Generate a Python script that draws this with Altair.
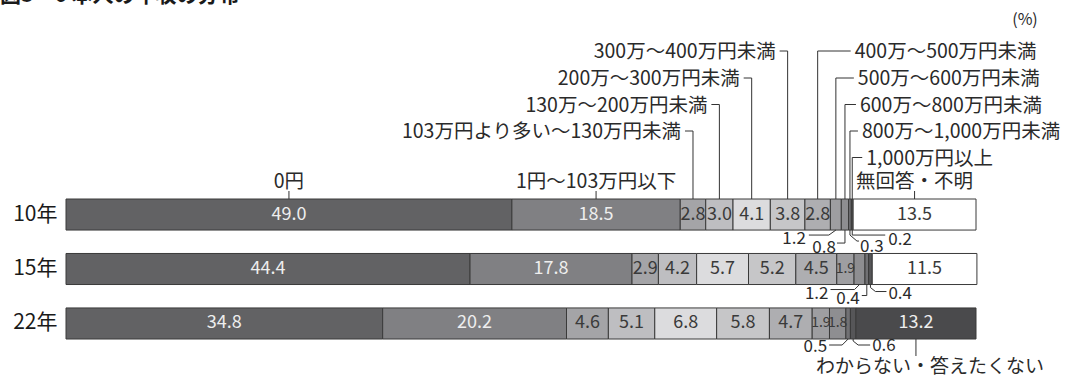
import altair as alt
import pandas as pd

FONT = "Noto Sans CJK JP"

# ---- data -------------------------------------------------------------
years = ["10年", "15年", "22年"]
brackets = [
    "0円",
    "1円〜103万円以下",
    "103万円より多い〜130万円未満",
    "130万〜200万円未満",
    "200万〜300万円未満",
    "300万〜400万円未満",
    "400万〜500万円未満",
    "500万〜600万円未満",
    "600万〜800万円未満",
    "800万〜1,000万円未満",
    "1,000万円以上",
]
last_cat = ["無回答・不明", "無回答・不明", "わからない・答えたくない"]
share_10 = [49.0, 18.5, 2.8, 3.0, 4.1, 3.8, 2.8, 1.2, 0.8, 0.3, 0.2, 13.5]
share_15 = [44.4, 17.8, 2.9, 4.2, 5.7, 5.2, 4.5, 1.9, 1.2, 0.4, 0.4, 11.5]
share_22 = [34.8, 20.2, 4.6, 5.1, 6.8, 5.8, 4.7, 1.9, 1.8, 0.5, 0.6, 13.2]

categories = brackets + ["無回答・不明", "わからない・答えたくない"]
fills = ["#626264", "#808083", "#a4a4a7", "#bebec1", "#dcdcde", "#c6c6c8",
         "#aeaeb1", "#9e9ea1", "#8e8e91", "#717174", "#565658", "#ffffff", "#4a4a4c"]
light_ink = {"0円", "1円〜103万円以下", "わからない・答えたくない"}

title_text = "図3－6 本人の年収の分布"

# ---- layout -----------------------------------------------------------
W, H = 910, 378          # plot area (full height of the page)
PAD_L, PAD_R = 66, 96
PX = W / 100.0           # pixels per percentage point
BAND_LO, BAND_HI, PAD_INNER = 199, 339, 0.43
step = (BAND_HI - BAND_LO) / (len(years) - PAD_INNER)
bandw = step * (1 - PAD_INNER)
bar_top = {yr: BAND_LO + i * step for i, yr in enumerate(years)}
bar_bot = {yr: bar_top[yr] + bandw for yr in years}

# ---- segment table ----------------------------------------------------
rows = []
for yr, vals, last in zip(years, [share_10, share_15, share_22], last_cat):
    start = 0.0
    for cat, v in zip(brackets + [last], vals):
        rows.append(dict(
            year=yr, cat=cat, value=v, start=start, end=start + v,
            mid=start + v / 2, label=f"{v:.1f}",
            ink="#eeeeee" if cat in light_ink else "#3a3a3a",
            inside=v >= 1.5, narrow=v < 2.5,
        ))
        start += v
seg = pd.DataFrame(rows)
mid = {(r.year, r.cat): r.mid for r in seg.itertuples()}

# ---- leader lines and their labels -----------------------------------
lines, texts = [], []
NAME_SIZE = 19.5


def path(pid, pts):
    for k, (x, y) in enumerate(pts):
        lines.append(dict(pid=pid, k=k, x=x, y=y))


def label(x, y, text, align, size=NAME_SIZE):
    texts.append(dict(x=x, y=y, text=text, align=align, size=size))


top10 = bar_top["10年"]

# bracket names above the first bar, left column
for idx, tier in [(2, 131), (3, 104.5), (4, 78), (5, 51)]:
    cx = mid[("10年", brackets[idx])]
    path(f"hl{idx}", [(cx - 8 / PX, tier), (cx, tier), (cx, top10)])
    label(cx - 12 / PX, tier + 1, brackets[idx], "right")

# bracket names above the first bar, right column
for idx, tier, dx in [(6, 51, 37), (7, 78, 22), (8, 104.5, 15), (9, 131, 12), (10, 157.5, 14)]:
    cx = mid[("10年", brackets[idx])]
    path(f"hr{idx}", [(cx, top10), (cx, tier), (cx + (dx - 4) / PX, tier)])
    label(cx + dx / PX, tier + 1, brackets[idx], "left")

# names with a short tick
for name in ["0円", "1円〜103万円以下", "無回答・不明"]:
    cx = mid[("10年", name)]
    path(f"t{name}", [(cx, 191), (cx, top10)])
    label(cx, 182, name, "center")

# small shares written under the bars: (year, bracket, path offsets px, text dx, text dy, align)
small = [
    ("10年", 7, [(0, 0), (-7, 5), (-27, 5)], -30, 9, "right"),
    ("10年", 8, [(0, 0), (0, 13), (-8, 13)], -9, 18, "right"),
    ("10年", 9, [(0, 0), (0, 5), (7, 11), (9, 11)], 10, 17, "left"),
    ("10年", 10, [(0, 0), (0, 5), (33, 5)], 36, 10, "left"),
    ("15年", 8, [(0, 0), (-5, 5), (-29, 5)], -31, 9, "right"),
    ("15年", 9, [(0, 0), (0, 11), (-5, 11)], -7, 14, "right"),
    ("15年", 10, [(0, 0), (0, 3), (5, 7), (16, 7)], 18, 9, "left"),
    ("22年", 9, [(0, 0), (-6, 6), (-19, 6)], -21, 8, "right"),
    ("22年", 10, [(0, 0), (0, 2), (5, 6), (17, 6)], 19, 7, "left"),
]
for yr, idx, pts, tdx, tdy, al in small:
    cat = brackets[idx]
    cx = mid[(yr, cat)]
    yb = bar_bot[yr]
    path(f"s{yr}{idx}", [(cx + dx / PX, yb + dy) for dx, dy in pts])
    v = seg[(seg.year == yr) & (seg.cat == cat)].label.iloc[0]
    label(cx + tdx / PX, yb + tdy, v, al, 17)

# name for the last segment of the third bar
cx = mid[("22年", "わからない・答えたくない")]
path("t22last", [(cx, bar_bot["22年"]), (cx, bar_bot["22年"] + 17)])
label(cx + 14 / PX, bar_bot["22年"] + 28, "わからない・答えたくない", "center", 19)

# unit
label(100 + 49 / PX, 20, "(%)", "center", 16)

line_df = pd.DataFrame(lines)
text_df = pd.DataFrame(texts)

# ---- chart ------------------------------------------------------------
x_scale = alt.Scale(domain=[0, 100], nice=False, zero=False)
y_band = alt.Scale(domain=years, range=[BAND_LO, BAND_HI],
                   paddingInner=PAD_INNER, paddingOuter=0)
y_px = alt.Scale(domain=[0, H], range=[0, H], nice=False, zero=False)

bars = alt.Chart(seg).mark_bar(stroke="#3a3a3a", strokeWidth=1).encode(
    x=alt.X("start:Q", scale=x_scale, axis=None),
    x2="end:Q",
    y=alt.Y("year:N", scale=y_band, sort=years,
            axis=alt.Axis(title=None, domain=False, ticks=False, labelFont=FONT,
                          labelFontSize=21, labelColor="#1a1a1a", labelPadding=9)),
    color=alt.Color("cat:N", scale=alt.Scale(domain=categories, range=fills), legend=None),
)

value_labels = alt.Chart(seg).transform_filter(
    "datum.inside && !datum.narrow"
).mark_text(font=FONT, fontSize=18, baseline="middle").encode(
    x=alt.X("mid:Q", scale=x_scale, axis=None),
    y=alt.Y("year:N", scale=y_band, sort=years),
    text="label:N",
    color=alt.Color("ink:N", scale=None),
)

# shares in very thin segments are set smaller so they fit
narrow_labels = alt.Chart(seg).transform_filter(
    "datum.inside && datum.narrow"
).mark_text(font=FONT, fontSize=14, baseline="middle").encode(
    x=alt.X("mid:Q", scale=x_scale, axis=None),
    y=alt.Y("year:N", scale=y_band, sort=years),
    text="label:N",
    color=alt.Color("ink:N", scale=None),
)

bar_block = alt.layer(bars, value_labels, narrow_labels)

leaders = alt.Chart(line_df).mark_line(color="#333333", strokeWidth=1).encode(
    x=alt.X("x:Q", scale=x_scale, axis=None),
    y=alt.Y("y:Q", scale=y_px, axis=None),
    detail="pid:N",
    order="k:Q",
)

text_layers = []
for al in ["left", "center", "right"]:
    text_layers.append(
        alt.Chart(text_df).transform_filter(f"datum.align == '{al}'").mark_text(
            align=al, baseline="middle", font=FONT, color="#2a2a2a"
        ).encode(
            x=alt.X("x:Q", scale=x_scale, axis=None),
            y=alt.Y("y:Q", scale=y_px, axis=None),
            text="text:N",
            size=alt.Size("size:Q", scale=None),
        )
    )

title_mark = alt.Chart(pd.DataFrame({"t": [title_text]})).mark_text(
    align="left", baseline="alphabetic", font=FONT, fontSize=21,
    fontWeight="bold", color="#1a1a1a"
).encode(x=alt.value(-PAD_L), y=alt.value(2), text="t:N")

chart = alt.layer(bar_block, leaders, *text_layers, title_mark).resolve_scale(
    y="independent"
).properties(
    width=W, height=H,
    padding={"left": PAD_L, "right": PAD_R, "top": 0, "bottom": 0},
    autosize=alt.AutoSizeParams(type="none"),
    background="white",
).configure_view(stroke=None)

chart.save("out.html", embed_options={"renderer": "svg", "actions": False})
